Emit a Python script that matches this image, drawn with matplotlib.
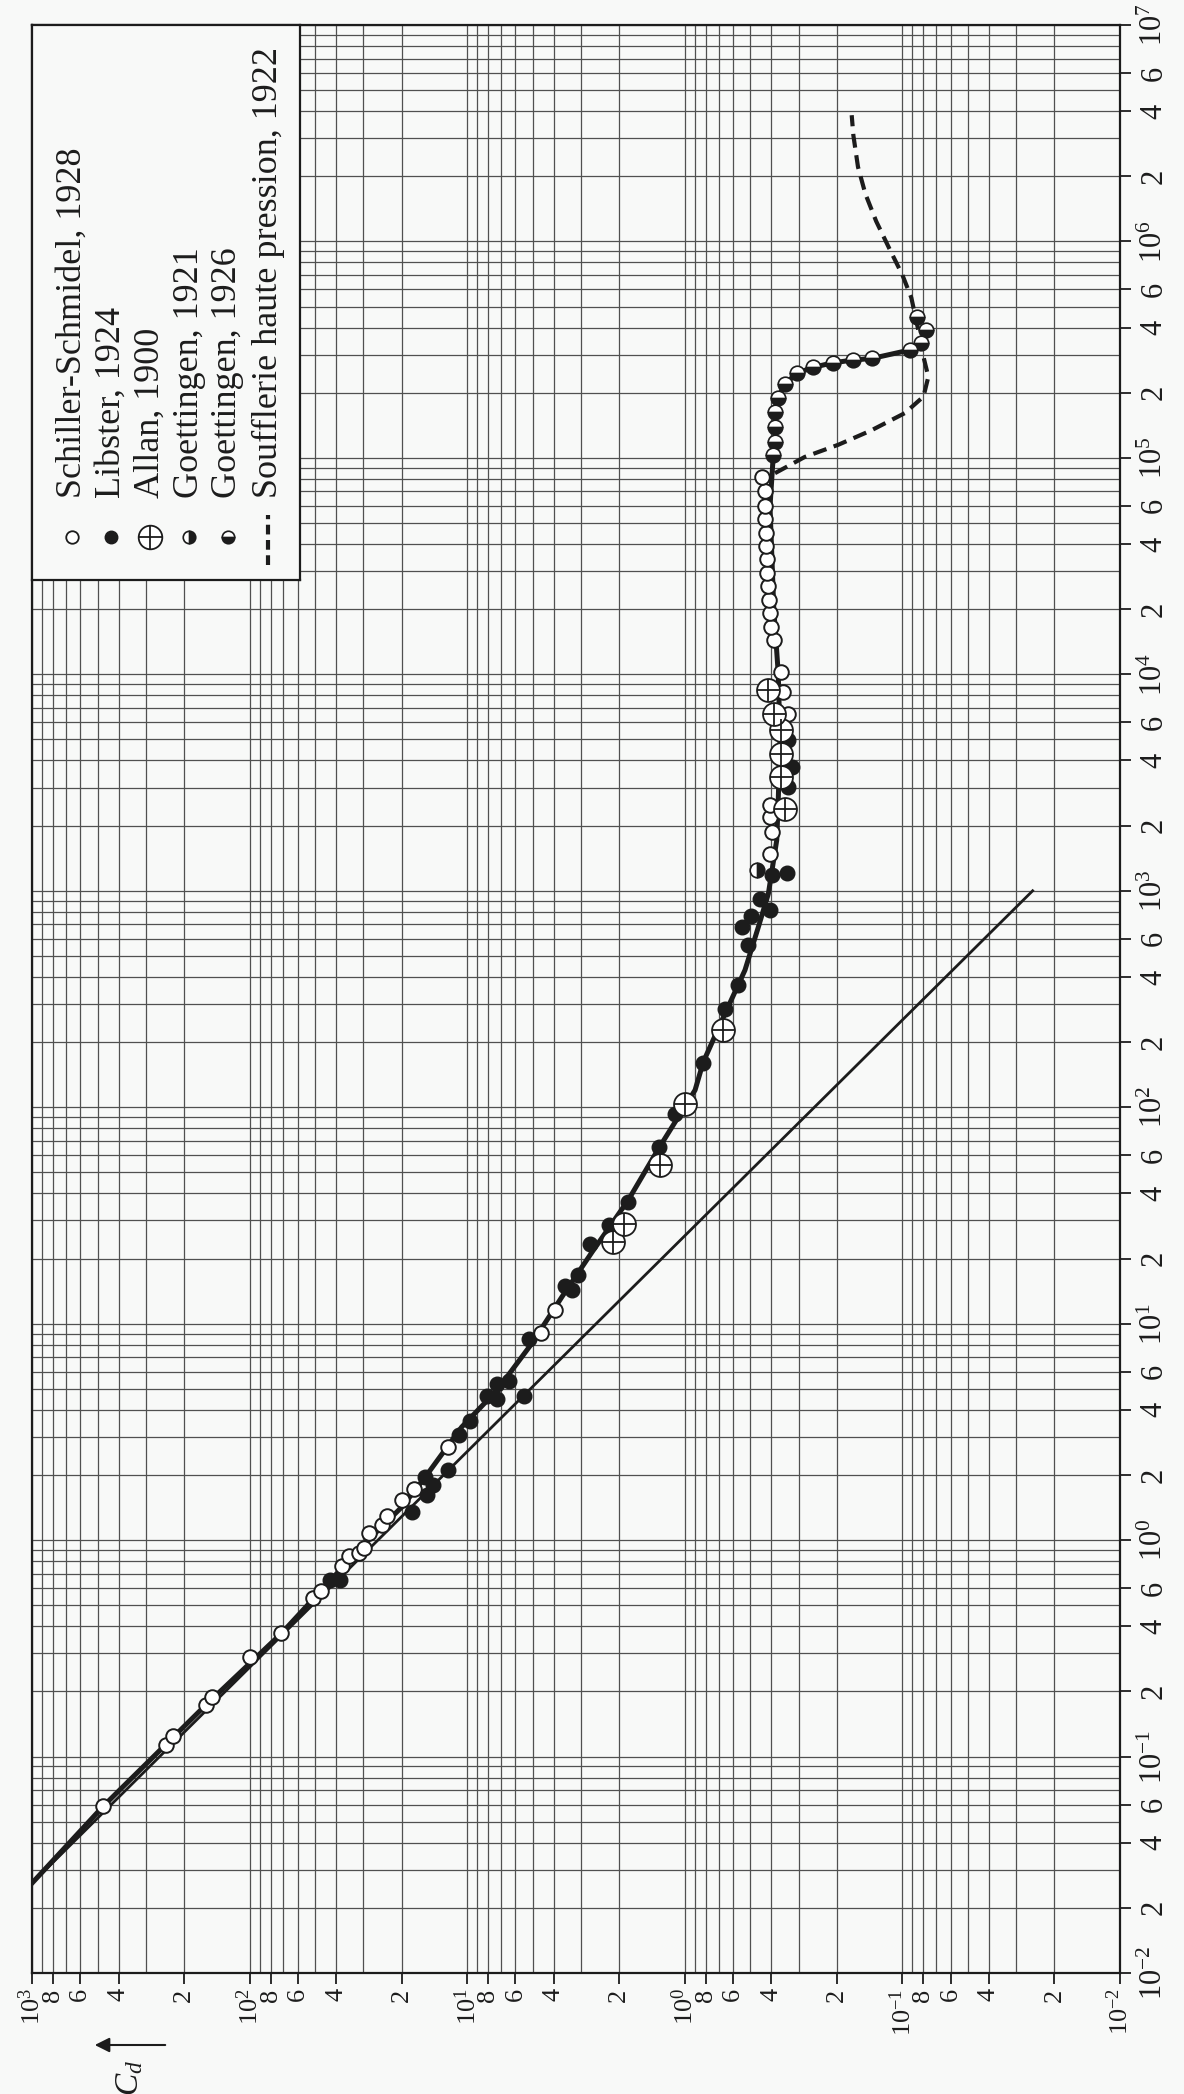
import numpy as np
import matplotlib.pyplot as plt
from matplotlib.ticker import NullFormatter

plt.rcParams['font.family'] = ['Liberation Serif', 'DejaVu Serif']
plt.rcParams['mathtext.fontset'] = 'custom'
plt.rcParams['mathtext.rm'] = 'Liberation Serif'
plt.rcParams['mathtext.it'] = 'Liberation Serif:italic'
plt.rcParams['lines.scale_dashes'] = False

# ---- données (Re, Cd) ----
# Schiller-Schmidel, 1928 (cercles ouverts)
schiller_re = [0.0589, 0.1127, 0.124, 0.1725, 0.188, 0.287, 0.371, 0.538, 0.582, 0.757,
               0.841, 0.869, 0.918, 1.08, 1.17, 1.29, 1.53, 1.73, 2.69, 9.1, 11.6,
               1486, 1871, 2193, 2484, 6590, 8300, 10200,
               1.44e4, 1.66e4, 1.92e4, 2.2e4, 2.55e4, 2.95e4, 3.4e4, 3.9e4, 4.5e4,
               5.2e4, 6.0e4, 7.0e4, 8.2e4]
schiller_cd = [471, 243, 224, 158, 149, 100, 72.1, 51.1, 46.8, 37.8,
               34.8, 31.5, 29.9, 28.4, 24.7, 23.4, 19.95, 17.6, 12.2, 4.57, 3.94,
               0.406, 0.399, 0.406, 0.406, 0.334, 0.352, 0.361,
               0.388, 0.40, 0.405, 0.41, 0.413, 0.417, 0.42, 0.423, 0.425,
               0.428, 0.43, 0.43, 0.443]

# Libster, 1924 (points pleins)
libster_re = [0.652, 0.652, 1.35, 1.96, 1.79, 1.61, 2.10, 3.05, 3.54, 4.62, 4.51, 5.28,
              5.43, 4.62, 8.53, 15.0, 14.3, 16.7, 23.3, 28.5, 36.5, 65.6, 92.9, 160,
              283, 366, 561, 677, 764, 921, 813, 1180, 1202, 4966, 3741, 3020]
libster_cd = [42.5, 38.3, 18.0, 15.6, 14.3, 15.3, 12.2, 10.9, 9.68, 8.12, 7.31, 7.31,
              6.41, 5.51, 5.22, 3.55, 3.31, 3.08, 2.72, 2.24, 1.82, 1.32, 1.11, 0.822,
              0.653, 0.568, 0.511, 0.548, 0.497, 0.451, 0.406, 0.399, 0.340, 0.334, 0.323, 0.334]

# Allan, 1900 (cercles barrés)
allan_re = [23.9, 29.0, 54.0, 104, 227, 2376, 3360, 4306, 5559, 6590, 8450]
allan_cd = [2.13, 1.91, 1.30, 0.997, 0.665, 0.347, 0.361, 0.361, 0.361, 0.388, 0.416]

# Goettingen, 1921
goe21_re = [1245]
goe21_cd = [0.468]

# Goettingen, 1926
goe26_re = [1.03e5, 1.19e5, 1.39e5, 1.63e5, 1.90e5, 2.19e5, 2.46e5, 2.62e5, 2.75e5,
            2.83e5, 2.88e5, 3.15e5, 3.38e5, 3.90e5, 4.49e5]
goe26_cd = [0.392, 0.383, 0.383, 0.385, 0.372, 0.347, 0.306, 0.257, 0.209,
            0.169, 0.138, 0.0925, 0.0823, 0.0783, 0.0853]

# courbe moyenne (trait épais)
curve_re = [0.026, 0.0589, 0.1725, 0.37, 0.652, 0.997, 1.42, 1.92, 3.33, 4.92, 8.09,
            13.3, 21.4, 37.2, 64.4, 120, 162, 271, 430, 681, 970, 1714, 2624, 4966,
            1.01e4, 2.0e4, 4.0e4, 5.94e4, 1.03e5, 1.19e5, 1.39e5, 1.63e5, 1.90e5,
            2.19e5, 2.46e5, 2.62e5, 2.75e5, 2.83e5, 2.88e5, 3.15e5, 3.38e5]
curve_cd = [1000, 471, 159.4, 71.5, 42.5, 28.6, 20.0, 15.8, 10.6, 7.3, 5.05,
            3.67, 2.67, 1.82, 1.32, 0.897, 0.822, 0.653, 0.529, 0.459, 0.413, 0.378, 0.372, 0.365,
            0.372, 0.39, 0.40, 0.406, 0.392, 0.383, 0.383, 0.385, 0.372,
            0.347, 0.306, 0.257, 0.209, 0.169, 0.138, 0.0925, 0.0823]

# loi de Stokes (droite)
stokes_re = [0.026, 1000]
stokes_cd = [1000, 0.0252]

# Soufflerie haute pression, 1922 (tirets)
hp_re = [8.5e4, 1.01e5, 1.15e5, 1.34e5, 1.61e5, 1.92e5, 2.37e5, 2.93e5, 4.0e5, 5.5e5,
         7.0e5, 9.3e5, 1.24e6, 1.66e6, 2.21e6, 3.09e6, 3.83e6]
hp_cd = [0.385, 0.281, 0.197, 0.139, 0.0975, 0.080, 0.076, 0.080, 0.085, 0.091,
         0.100, 0.115, 0.132, 0.148, 0.160, 0.168, 0.171]

legend_labels = ['Schiller-Schmidel, 1928', 'Libster, 1924', 'Allan, 1900',
                 'Goettingen, 1921', 'Goettingen, 1926', 'Soufflerie haute pression, 1922']

# graduations
cd_ticks, cd_labels, cd_minor = [], [], []
for d in [3, 2, 1, 0, -1, -2]:
    cd_ticks.append(10.0 ** d)
    cd_labels.append('$10^{%d}$' % d)
    if d > -2:
        for m in [8, 6, 4, 2]:
            cd_ticks.append(m * 10.0 ** (d - 1))
            cd_labels.append(str(m))
        for m in [3, 5, 7, 9]:
            cd_minor.append(m * 10.0 ** (d - 1))

re_ticks, re_labels, re_minor = [], [], []
for d in range(-2, 8):
    re_ticks.append(10.0 ** d)
    re_labels.append('$10^{%d}$' % d)
    if d < 7:
        for m in [2, 4, 6]:
            re_ticks.append(m * 10.0 ** d)
            re_labels.append(str(m))
        for m in [3, 5, 7, 8, 9]:
            re_minor.append(m * 10.0 ** d)

ink = '#1c1c1c'
paper = '#f8f9f8'
gridc = '#505050'

W, H = 1184, 2094
fig = plt.figure(figsize=(W / 100, H / 100), dpi=100, facecolor=paper)
ax = fig.add_axes([32 / W, 1 - 1973 / H, (1120 - 32) / W, (1973 - 25) / H])
ax.set_facecolor(paper)
ax.set_xscale('log')
ax.set_yscale('log')
ax.set_xlim(1e3, 1e-2)
ax.set_ylim(1e-2, 1e7)

ax.set_xticks(cd_ticks, cd_labels)
ax.set_xticks(cd_minor, minor=True)
ax.xaxis.set_minor_formatter(NullFormatter())
ax.yaxis.tick_right()
ax.set_yticks(re_ticks, re_labels)
ax.set_yticks(re_minor, minor=True)
ax.yaxis.set_minor_formatter(NullFormatter())

ax.grid(True, which='both', color=gridc, lw=0.9)
ax.set_axisbelow(True)
ax.tick_params(which='minor', length=0)
ax.tick_params(axis='x', which='major', direction='out', length=8, width=1.3,
               pad=3, labelsize=19, labelrotation=90, colors=ink)
ax.tick_params(axis='y', which='major', direction='out', length=8, width=1.3,
               pad=6, labelsize=22, labelrotation=90, colors=ink,
               left=False, right=True, labelleft=False, labelright=True)
for lab in ax.get_yticklabels():
    lab.set_va('center')
for s in ax.spines.values():
    s.set_linewidth(1.6)
    s.set_color(ink)

# courbes
ax.plot(stokes_cd, stokes_re, color=ink, lw=2.0, zorder=3)
ax.plot(curve_cd, curve_re, color=ink, lw=3.6, zorder=3, solid_joinstyle='round')
ax.plot(hp_cd, hp_re, color=ink, lw=3.0, ls=(0, (10, 5.5)), zorder=3)

# points
ax.plot(libster_cd, libster_re, 'o', ms=10.5, mfc=ink, mec=ink, mew=1.0, zorder=4)
ax.plot(schiller_cd, schiller_re, 'o', ms=10.5, mfc='white', mec=ink, mew=1.4, zorder=5)
ax.plot(allan_cd, allan_re, 'o', ms=16.5, mfc='white', mec=ink, mew=1.3, zorder=6)
ax.plot(allan_cd, allan_re, '+', ms=16.5, mec=ink, mew=1.3, zorder=6)
ax.plot(goe21_cd, goe21_re, 'o', ms=10.5, fillstyle='right', mfc=ink,
        markerfacecoloralt='white', mec=ink, mew=1.2, zorder=5)
ax.plot(goe26_cd, goe26_re, 'o', ms=10.5, fillstyle='bottom', mfc=ink,
        markerfacecoloralt='white', mec=ink, mew=1.2, zorder=5)

# légende (texte tourné)
lax = fig.add_axes([32 / W, 1 - 580 / H, (300 - 32) / W, (580 - 25) / H])
lax.set_facecolor(paper)
lax.set_xlim(32, 300)
lax.set_ylim(580, 25)
lax.set_xticks([])
lax.set_yticks([])
for s in lax.spines.values():
    s.set_linewidth(1.6)
    s.set_color(ink)
row_x = [72, 111, 150, 189, 228, 268]
lax.plot(row_x[0], 537, 'o', ms=9, mfc='white', mec=ink, mew=1.3)
lax.plot(row_x[1], 537, 'o', ms=9, mfc=ink, mec=ink)
lax.plot(row_x[2], 537, 'o', ms=17, mfc='white', mec=ink, mew=1.3)
lax.plot(row_x[2], 537, '+', ms=17, mec=ink, mew=1.3)
lax.plot(row_x[3], 537, 'o', ms=9, fillstyle='right', mfc=ink,
         markerfacecoloralt='white', mec=ink, mew=1.2)
lax.plot(row_x[4], 537, 'o', ms=9, fillstyle='bottom', mfc=ink,
         markerfacecoloralt='white', mec=ink, mew=1.2)
lax.plot([row_x[5], row_x[5]], [565, 515], color=ink, lw=3, ls=(0, (7, 4)))
for x, t in zip(row_x, legend_labels):
    lax.text(x, 498, t, rotation=90, ha='center', va='bottom', fontsize=26, color=ink)

# C_d et flèche
fig.text(130 / W, 1 - 2078 / H, '$C_d$', rotation=90, ha='center', va='center',
         fontsize=24, color=ink)
fig.patches.append(plt.matplotlib.patches.FancyArrowPatch(
    (168 / W, 1 - 2045 / H), (92 / W, 1 - 2045 / H), transform=fig.transFigure,
    arrowstyle='-|>', mutation_scale=22, lw=1.5, color=ink))

fig.savefig('out.png', dpi=100, facecolor=paper)
